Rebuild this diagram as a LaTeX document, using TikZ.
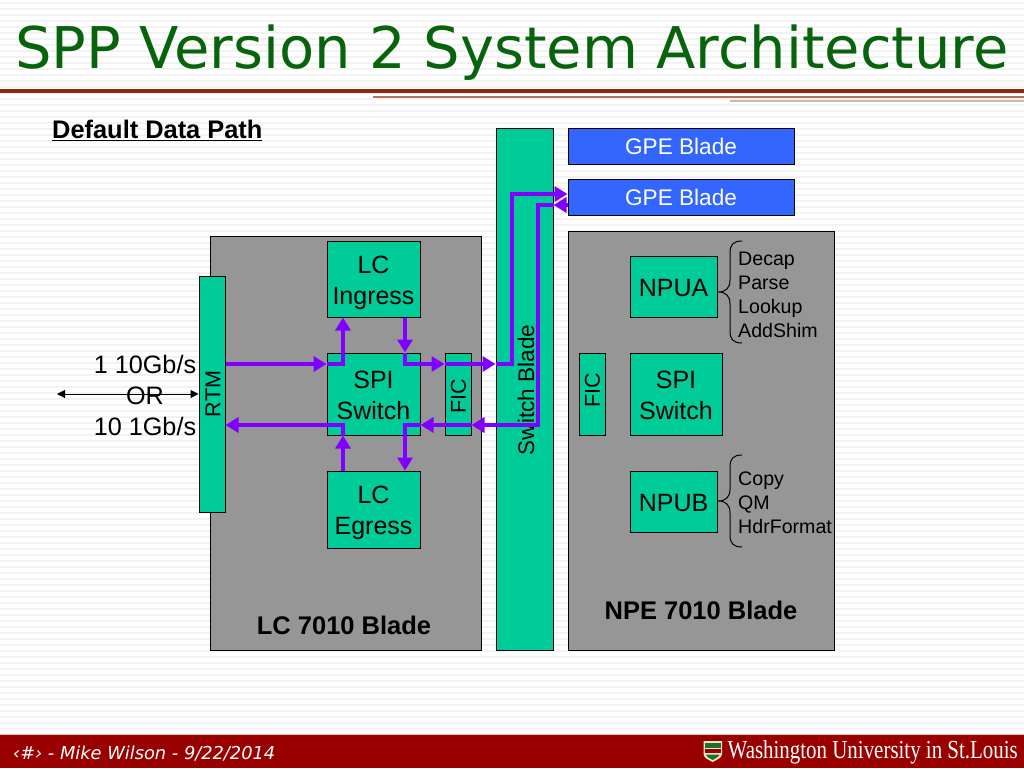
\documentclass[tikz,border=0pt]{standalone}
\usepackage{fontspec}
\setmainfont{Liberation Sans}
\newfontfamily\titlefont{DejaVu Sans}
\newfontfamily\logofont{Liberation Serif}
\definecolor{bladegray}{RGB}{150,150,150}
\definecolor{chipgreen}{RGB}{0,204,153}
\definecolor{gpeblue}{RGB}{51,102,255}
\definecolor{pathpurple}{RGB}{128,0,255}
\definecolor{titlegreen}{RGB}{8,100,12}
\definecolor{rulebrown}{RGB}{138,42,10}
\definecolor{footred}{RGB}{153,0,0}
\definecolor{stripegray}{RGB}{242,242,242}
\definecolor{shieldcream}{RGB}{236,232,190}
\definecolor{shieldgreen}{RGB}{30,110,50}
\usetikzlibrary{arrows.meta,calc}
\tikzset{
  blade/.style={draw=black, fill=bladegray, line width=1pt},
  chip/.style={draw=black, fill=chipgreen, line width=1pt, inner sep=0pt},
  chiplabel/.style={align=center, inner sep=0pt, font=\fontsize{25}{30.5}\selectfont},
  gpe/.style={draw=black, fill=gpeblue, line width=1pt, inner sep=0pt},
  gpelabel/.style={inner sep=0pt, text=white, font=\fontsize{22.6}{26}\selectfont},
  sidelabel/.style={inner sep=0pt, rotate=90, font=\fontsize{21.5}{26}\selectfont},
  bladelabel/.style={font=\fontsize{25.5}{28}\selectfont\bfseries, inner sep=0pt},
  tasklist/.style={align=left, inner sep=0pt, font=\fontsize{19.6}{24}\selectfont},
  datapath/.style={draw=pathpurple, line width=4pt, -{Triangle[length=13pt,width=15pt]}},
  linkarrow/.style={draw=black, line width=1pt, {Triangle[length=8pt,width=8pt]}-{Triangle[length=8pt,width=8pt]}},
}
% box with corners given in pixels
\newcommand{\boxat}[6]{\node[#1, minimum width={#4-#3}, minimum height={#6-#5}] (#2) at ({(#3+#4)/2},{(#5+#6)/2}) {};}
% list brace, tip at (718,#1)
\newcommand{\listbrace}[2]{
  \begin{scope}[shift={(718,#1)}, line width=1pt]
    \draw (24,-#2) .. controls (15,-#2) and (12,-#2+4) .. (12,-#2+12) -- (12,-12)
      .. controls (12,-4) and (8,0) .. (0,0) .. controls (8,0) and (12,4) .. (12,12)
      -- (12,#2-12) .. controls (12,#2-4) and (15,#2) .. (24,#2);
  \end{scope}}
\begin{document}
\begin{tikzpicture}[x=1pt,y=-1pt]
  \useasboundingbox (0,0) rectangle (1024,768);
  \fill[white] (0,0) rectangle (1024,768);
  % stripes
  \foreach \row in {3,9,...,735} {
    \draw[stripegray, line width=2pt] (0,\row) -- (1024,\row);
  }

  % header
  \node[anchor=west, inner sep=0pt, text=titlegreen, font=\titlefont\fontsize{57.5}{60}\selectfont] (title) at (15,53) {SPP Version 2 System Architecture};
  \fill[rulebrown] (0,88.5) rectangle (1024,93);
  \fill[rulebrown!65] (373,96) rectangle (1024,98);
  \fill[rulebrown!35] (730,100) rectangle (1024,102);
  \node[anchor=west, inner sep=0pt, font=\fontsize{25.4}{28}\selectfont\bfseries] (heading) at (52,130) {\underline{Default Data Path}};

  % blades
  \boxat{blade}{lcblade}{210}{481}{236}{650}
  \boxat{blade}{npeblade}{568}{834}{231}{650}
  \boxat{chip}{switchblade}{496}{553}{128}{650}
  \boxat{gpe}{gpea}{568}{794}{128}{164}
  \boxat{gpe}{gpeb}{568}{794}{179}{215}
  \node[gpelabel] (gpealabel) at (681,146) {GPE Blade};
  \node[gpelabel] (gpeblabel) at (681,197) {GPE Blade};

  % LC side
  \boxat{chip}{rtm}{199}{225}{276}{512}
  \boxat{chip}{ficlc}{445}{471}{353}{435}
  \boxat{chip}{ingress}{327}{420}{241}{317}
  \boxat{chip}{spilc}{327}{420}{353}{435}
  \boxat{chip}{egress}{327}{420}{471}{548}
  \node[chiplabel] (ingresslabel) at (373.5,283) {LC\\Ingress};
  \node[chiplabel] (spilclabel) at (373.5,395.5) {SPI\\Switch};
  \node[chiplabel] (egresslabel) at (373.5,513) {LC\\Egress};
  \node[sidelabel] (rtmlabel) at (213,394) {RTM};
  \node[sidelabel] (ficlclabel) at (458.5,396) {FIC};
  \node[sidelabel, font=\fontsize{22.6}{26}\selectfont] (switchlabel) at (526,390) {Switch Blade};

  % NPE side
  \boxat{chip}{ficnpe}{579}{605}{353}{435}
  \boxat{chip}{npua}{630}{717}{256}{317}
  \boxat{chip}{spinpe}{630}{722}{353}{435}
  \boxat{chip}{npub}{630}{717}{471}{532}
  \node[sidelabel] (ficnpelabel) at (592.5,390) {FIC};
  \node[chiplabel] (npualabel) at (673.5,288) {NPUA};
  \node[chiplabel] (spinpelabel) at (676,395.5) {SPI\\Switch};
  \node[chiplabel] (npublabel) at (673.5,503) {NPUB};
  \listbrace{292}{51}
  \listbrace{501}{46}
  \node[tasklist, anchor=west] (npualist) at (738,295) {Decap\\Parse\\Lookup\\AddShim};
  \node[tasklist, anchor=west] (npublist) at (738,503) {Copy\\QM\\HdrFormat};

  \node[bladelabel] (lclabel) at (344,625) {LC 7010 Blade};
  \node[bladelabel] (npelabel) at (701,610) {NPE 7010 Blade};

  % external link
  \coordinate (linkend) at (57,394);
  \draw[linkarrow] (linkend) -- (linkend -| rtm.west);
  \node[align=center, inner sep=0pt, font=\fontsize{25.2}{31}\selectfont] (linklabel) at (145,395) {1 10Gb/s\\OR\\10 1Gb/s};

  % data path
  \coordinate (outrow) at (0,364);
  \coordinate (backrow) at (0,425);
  \coordinate (gpeout) at (0,194);
  \coordinate (gpeback) at (0,205);
  \coordinate (leftcol) at (343,0);
  \coordinate (rightcol) at (405,0);
  \coordinate (upcol) at (512,0);
  \coordinate (downcol) at (538,0);
  \draw[datapath] (rtm.east |- outrow) -- (spilc.west |- outrow);
  \draw[datapath] (spilc.west |- outrow) -| (ingress.south -| leftcol);
  \draw[datapath] (ingress.south -| rightcol) -- (spilc.north -| rightcol);
  \draw[datapath] (spilc.north -| rightcol) |- (ficlc.west |- outrow);
  \draw[datapath] (ficlc.west |- outrow) -- (switchblade.west |- outrow);
  \draw[datapath] (switchblade.west |- outrow) -| (upcol |- gpeout) -- (gpeb.west |- gpeout);
  \draw[datapath] (gpeb.west |- gpeback) -- (switchblade.east |- gpeback);
  \draw[datapath] (switchblade.east |- gpeback) -| (downcol |- backrow) -- (ficlc.east |- backrow);
  \draw[datapath] (ficlc.east |- backrow) -- (spilc.east |- backrow);
  \draw[datapath] (spilc.east |- backrow) -| (egress.north -| rightcol);
  \draw[datapath] (egress.north -| leftcol) -- (spilc.south -| leftcol);
  \draw[datapath] (spilc.south -| leftcol) |- (rtm.east |- backrow);

  % footer
  \fill[footred] (0,735) rectangle (1024,768);
  \fill[rulebrown!30] (0,734) rectangle (1024,735);
  \node[anchor=west, inner sep=0pt, text=white, font=\titlefont\itshape\fontsize{17.8}{20}\selectfont] (footer) at (13,754) {‹\#› - Mike Wilson - 9/22/2014};
  \node[anchor=east, inner sep=0pt, text=white, xscale=.805, font=\logofont\fontsize{26}{28}\selectfont] (logotext) at (1018,752) {Washington University in St.Louis};
  % shield
  \fill[shieldcream] (703.5,741) -- (722,741) -- (722,754) .. controls (722,758) and (716,760) .. (712.7,762) .. controls (709,760) and (703.5,758) .. (703.5,754) -- cycle;
  \fill[shieldgreen] (705,742.5) rectangle (720.5,747.5);
  \fill[footred] (705,749) rectangle (720.5,753);
  \fill[shieldgreen] (706,754.5) -- (719.5,754.5) .. controls (719,757) and (715,758.5) .. (712.7,760) .. controls (710,758.5) and (706.5,757) .. (706,754.5) -- cycle;
\end{tikzpicture}
\end{document}
